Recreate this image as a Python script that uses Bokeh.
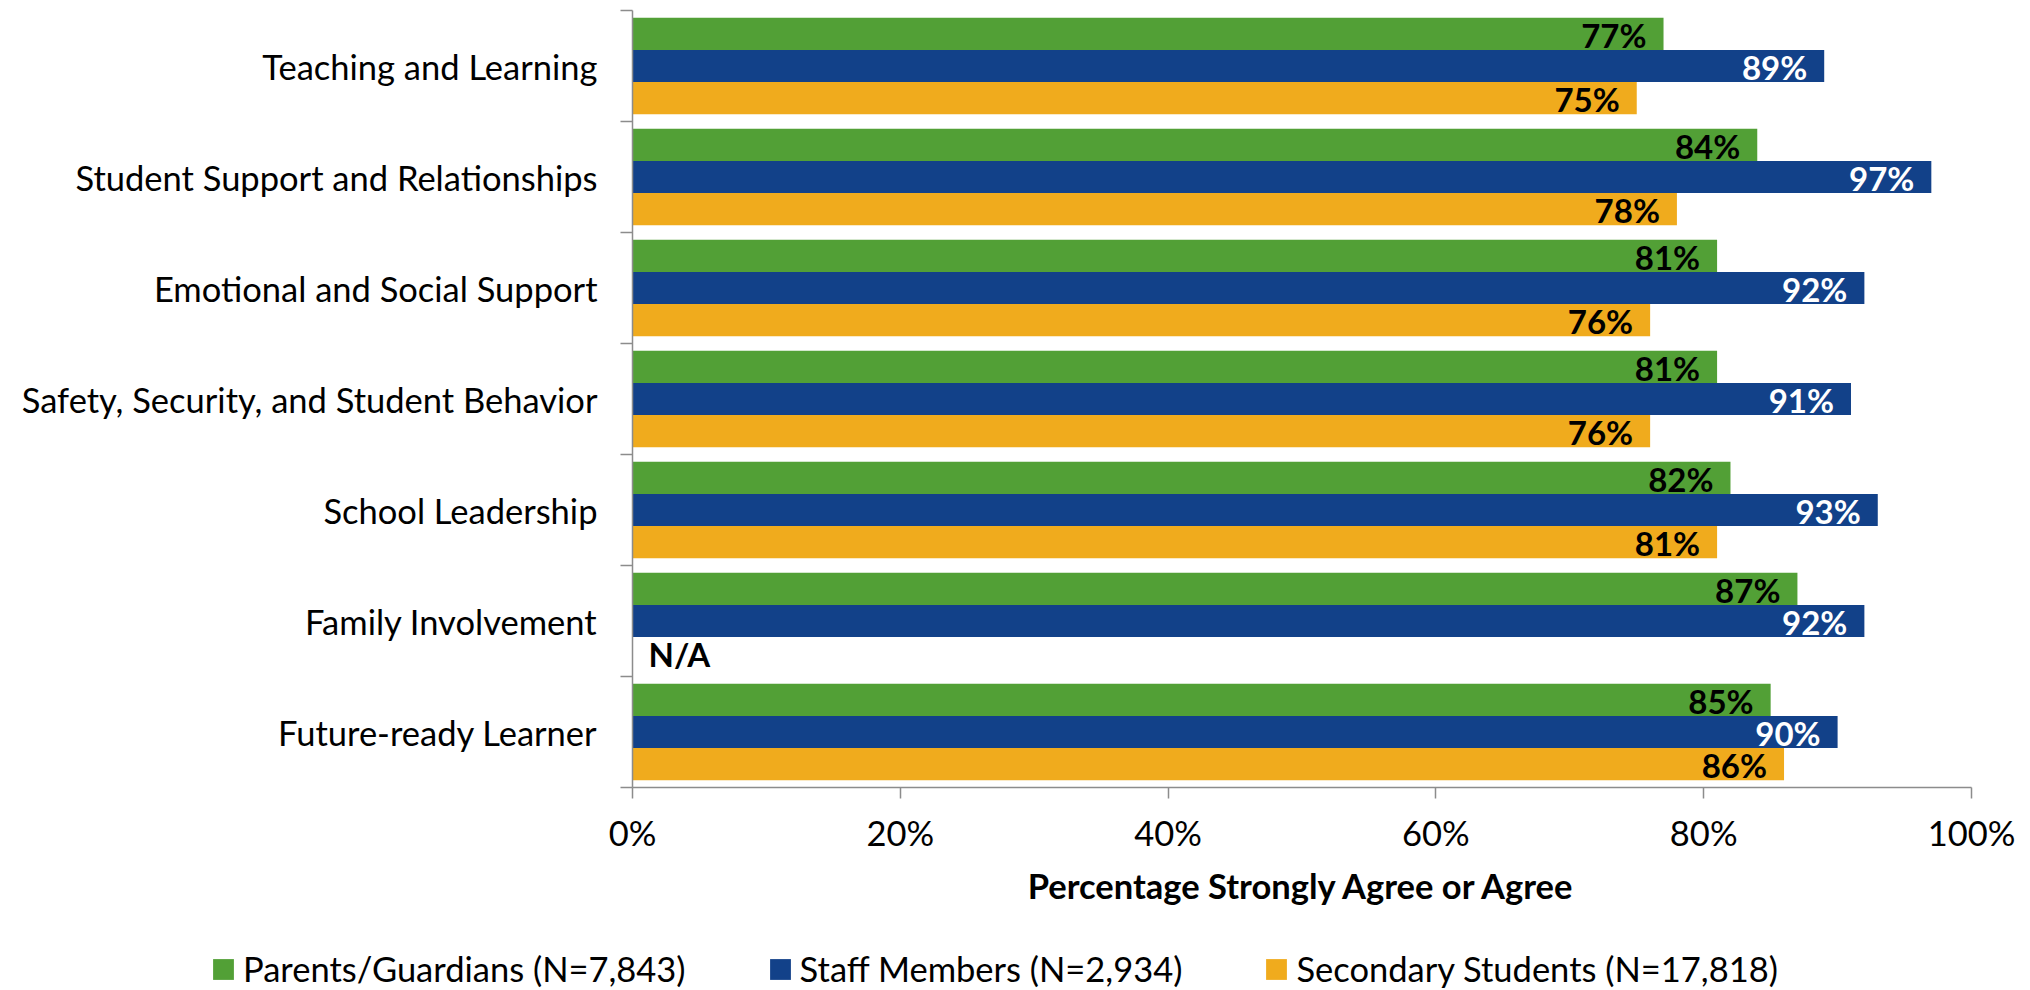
from bokeh.plotting import figure
from bokeh.layouts import column
from bokeh.models import ColumnDataSource, FixedTicker, Range1d, Legend, LegendItem, PrintfTickFormatter
from bokeh.core.properties import value
from bokeh.embed import file_html
from bokeh.resources import INLINE

# ---------------- data ----------------
categories = [
    "Teaching and Learning",
    "Student Support and Relationships",
    "Emotional and Social Support",
    "Safety, Security, and Student Behavior",
    "School Leadership",
    "Family Involvement",
    "Future-ready Learner",
]
parents = [77, 84, 81, 81, 82, 87, 85]
staff = [89, 97, 92, 91, 93, 92, 90]
students = [75, 78, 76, 76, 81, None, 86]
series_names = [
    "Parents/Guardians (N=7,843)",
    "Staff Members (N=2,934)",
    "Secondary Students (N=17,818)",
]
missing_label = "N/A"
x_ticks = [0, 20, 40, 60, 80, 100]
x_title = "Percentage Strongly Agree or Agree"

# ---------------- style ----------------
colors = ["#52A036", "#124189", "#F0AB1D"]
label_colors = ["black", "white", "black"]
axis_gray = "#8c8c8c"
FONT = "Lato"
FS = "34.5px"
FSB = "33px"
bar_h = 0.2895
offsets = [-bar_h, 0.0, bar_h]

n = len(categories)
p = figure(
    width=2030, height=930,
    x_range=Range1d(0, 100),
    y_range=Range1d(n - 0.5, -0.5),
    output_backend="svg", toolbar_location=None,
    min_border_left=632, min_border_right=59,
    min_border_top=10, min_border_bottom=143,
)
p.frame_align = False
p.outline_line_color = None
p.xgrid.grid_line_color = None
p.ygrid.grid_line_color = None
p.background_fill_color = "white"

for k, vals in enumerate([parents, staff, students]):
    ys, xs, txt = [], [], []
    for i, v in enumerate(vals):
        if v is None:
            continue
        ys.append(i + offsets[k])
        xs.append(v)
        txt.append(f"{v}%")
    src = ColumnDataSource(dict(y=ys, right=xs, txt=txt))
    p.hbar(y="y", right="right", left=0, height=bar_h, source=src,
           fill_color=colors[k], line_color=None)
    p.text(x="right", y="y", text="txt", source=src, x_offset=-17, y_offset=1,
           text_align="right", text_baseline="middle",
           text_font=value(FONT), text_font_size=FSB, text_font_style="bold",
           text_color=label_colors[k])

# N/A labels for missing values
na_y = [i + offsets[2] for i, v in enumerate(students) if v is None]
na_src = ColumnDataSource(dict(x=[0] * len(na_y), y=na_y, txt=[missing_label] * len(na_y)))
p.text(x="x", y="y", text="txt", source=na_src, x_offset=16, y_offset=1,
       text_align="left", text_baseline="middle",
       text_font=value(FONT), text_font_size=FSB, text_font_style="bold",
       text_color="black")

# y axis
ya = p.yaxis[0]
ya.ticker = FixedTicker(ticks=list(range(n)), minor_ticks=[i - 0.5 for i in range(n + 1)])
ya.major_label_overrides = {i: c for i, c in enumerate(categories)}
ya.major_tick_line_color = None
ya.major_tick_out = 0
ya.major_tick_in = 0
ya.minor_tick_line_color = axis_gray
ya.minor_tick_line_width = 1.5
ya.minor_tick_out = 12
ya.minor_tick_in = 0
ya.axis_line_color = axis_gray
ya.axis_line_width = 1.5
ya.major_label_standoff = 23
ya.major_label_text_font = FONT
ya.major_label_text_font_size = FS
ya.major_label_text_color = "black"

# x axis
xa = p.xaxis[0]
xa.ticker = FixedTicker(ticks=x_ticks)
xa.formatter = PrintfTickFormatter(format="%d%%")
xa.major_tick_line_color = axis_gray
xa.major_tick_line_width = 1.5
xa.major_tick_out = 11
xa.major_tick_in = 0
xa.minor_tick_line_color = None
xa.axis_line_color = axis_gray
xa.axis_line_width = 1.5
xa.major_label_standoff = 13
xa.major_label_text_font = FONT
xa.major_label_text_font_size = FS
xa.major_label_text_color = "black"
xa.axis_label = x_title
xa.axis_label_text_font = FONT
xa.axis_label_text_font_size = FS
xa.axis_label_text_font_style = "bold"
xa.axis_label_text_color = "black"
xa.axis_label_standoff = 9

# ---------------- legend strip ----------------
pl = figure(
    width=2030, height=60,
    x_range=Range1d(0, 1), y_range=Range1d(0, 1),
    output_backend="svg", toolbar_location=None,
    min_border_left=0, min_border_right=0, min_border_top=0, min_border_bottom=0,
    x_axis_type=None, y_axis_type=None,
)
pl.frame_align = False
pl.outline_line_color = None
pl.xgrid.grid_line_color = None
pl.ygrid.grid_line_color = None
leg_rs = []
for k in range(3):
    # zero-width bar: invisible on the strip, but gives the legend its swatch colour
    src = ColumnDataSource(dict(y=[0.5], right=[0]))
    leg_rs.append(pl.hbar(y="y", right="right", left=0, height=0.1, source=src,
                          fill_color=colors[k], line_color=None))
legend = Legend(
    items=[LegendItem(label=series_names[k], renderers=[leg_rs[k]]) for k in range(3)],
    orientation="horizontal", location=(210, 1),
    padding=0, margin=0, spacing=81, label_standoff=7,
    glyph_width=26, glyph_height=26,
    label_text_font=FONT, label_text_font_size=FS, label_text_color="black",
    border_line_color=None, background_fill_alpha=0,
)
pl.add_layout(legend, "center")

layout = column(p, pl, spacing=0)
open("out.html", "w").write(file_html(layout, INLINE))
